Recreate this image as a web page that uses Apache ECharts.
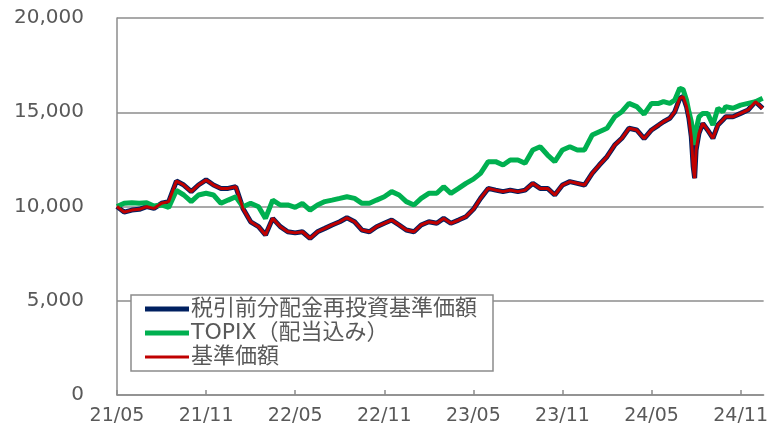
<!DOCTYPE html>
<html>
<head>
<meta charset="utf-8">
<script src="https://cdn.jsdelivr.net/npm/echarts@6/dist/echarts.min.js"></script>
<style>
  html, body { margin: 0; padding: 0; background: #ffffff; }
  #chart { width: 771px; height: 430px; }
</style>
</head>
<body>
<div id="chart"></div>
<script>
// dates of the points (half-monthly, denser around the Aug 2024 drop)
var dates = [
  '2021-05-01','2021-05-16','2021-06-01','2021-06-16','2021-07-01','2021-07-16','2021-08-01','2021-08-16','2021-09-01','2021-09-16',
  '2021-10-01','2021-10-16','2021-11-01','2021-11-16','2021-12-01','2021-12-16','2022-01-01','2022-01-16','2022-02-01','2022-02-16',
  '2022-03-01','2022-03-16','2022-04-01','2022-04-16','2022-05-01','2022-05-16','2022-06-01','2022-06-16','2022-07-01','2022-07-16',
  '2022-08-01','2022-08-16','2022-09-01','2022-09-16','2022-10-01','2022-10-16','2022-11-01','2022-11-16','2022-12-01','2022-12-16',
  '2023-01-01','2023-01-16','2023-02-01','2023-02-16','2023-03-01','2023-03-16','2023-04-01','2023-04-16','2023-05-01','2023-05-16',
  '2023-06-01','2023-06-16','2023-07-01','2023-07-16','2023-08-01','2023-08-16','2023-09-01','2023-09-16','2023-10-01','2023-10-16',
  '2023-11-01','2023-11-16','2023-12-01','2023-12-16','2024-01-01','2024-01-16','2024-02-01','2024-02-16','2024-03-01','2024-03-16',
  '2024-04-01','2024-04-16','2024-05-01','2024-05-16',
  '2024-05-26','2024-06-08','2024-06-18','2024-06-28','2024-07-05','2024-07-12','2024-07-17','2024-07-22','2024-07-26','2024-07-29',
  '2024-08-01','2024-08-07','2024-08-15','2024-08-25','2024-09-05','2024-09-15','2024-09-25',
  '2024-10-01','2024-10-16','2024-11-01','2024-11-16','2024-12-01','2024-12-16'
];

// 基準価額
var nav = [
  10000, 9700, 9810, 9850, 9990, 9900, 10170, 10260, 11350, 11140,
  10790, 11140, 11410, 11140, 10960, 10960, 11050, 9900, 9190, 8930,
  8490, 9370, 8930, 8660, 8600, 8660, 8310, 8660, 8840, 9020,
  9190, 9400, 9190, 8750, 8660, 8930, 9110, 9280, 9020, 8750,
  8660, 9020, 9190, 9110, 9370, 9110, 9280, 9460, 9850, 10430,
  10960, 10870, 10790, 10870, 10790, 10870, 11230, 10960, 10960, 10610,
  11140, 11320, 11230, 11140, 11760, 12200, 12640, 13260, 13620, 14150,
  14060, 13600, 14060, 14320,
  14500, 14680, 15030, 15740, 15830, 15300, 14680, 13700, 12110, 11500,
  13000, 13880, 14410, 14060, 13620, 14320, 14590,
  14760, 14760, 14940, 15120, 15560, 15210
];

// 税引前分配金再投資基準価額 (same as 基準価額 in the picture)
var navReinvest = nav;

// TOPIX（配当込み）
var topix = [
  10000, 10170, 10200, 10170, 10200, 10030, 10080, 9950, 10850, 10610,
  10260, 10610, 10700, 10610, 10170, 10340, 10520, 9990, 10170, 9990,
  9370, 10340, 10080, 10080, 9950, 10170, 9810, 10080, 10260, 10340,
  10430, 10520, 10430, 10170, 10170, 10340, 10520, 10790, 10610, 10260,
  10080, 10430, 10700, 10700, 11050, 10700, 10960, 11230, 11450, 11760,
  12380, 12380, 12200, 12470, 12470, 12290, 13000, 13170, 12730, 12380,
  13000, 13170, 13000, 13000, 13790, 13970, 14150, 14760, 15030, 15470,
  15300, 14900, 15470, 15470,
  15560, 15470, 15650, 16270, 16200, 15650, 15030, 14500, 13880, 13260,
  14060, 14760, 14940, 14940, 14320, 15210, 15030,
  15300, 15210, 15380, 15470, 15560, 15740
];

var seriesNames = ['税引前分配金再投資基準価額', 'TOPIX（配当込み）', '基準価額'];
var seriesColors = ['#002060', '#00b050', '#c00000'];
var startYear = 2021, startMonth = 5;

// months since 2021/05/01 (fractional), used as x position
function monthOffset(s) {
  var p = s.split('-');
  var y = +p[0], m = +p[1], d = +p[2];
  var dim = new Date(y, m, 0).getDate();
  return (y - startYear) * 12 + (m - startMonth) + (d - 1) / dim;
}
function pairs(vals) {
  var out = [];
  for (var i = 0; i < dates.length; i++) {
    out.push([monthOffset(dates[i]), vals[i]]);
  }
  return out;
}

var chart = echarts.init(document.getElementById('chart'));
var font = "'DejaVu Sans', 'Noto Sans CJK JP', sans-serif";
var gray = '#8c8c8c';

var option = {
  animation: false,
  grid: { left: 117, right: 0, top: 18, bottom: 35 },
  legend: {
    orient: 'vertical',
    left: 131,
    top: 295,
    padding: [3, 16, 3, 14],
    itemGap: 2,
    itemWidth: 44,
    itemHeight: 14,
    backgroundColor: '#ffffff',
    borderColor: gray,
    borderWidth: 1.5,
    borderRadius: 0,
    textStyle: { fontFamily: font, fontSize: 22, color: '#595959', padding: [0, 0, 0, -3] },
    data: [
      { name: seriesNames[0], icon: 'path://M0,0L44,0L44,5L0,5Z' },
      { name: seriesNames[1], icon: 'path://M0,0L44,0L44,5L0,5Z' },
      { name: seriesNames[2], icon: 'path://M0,0L44,0L44,3L0,3Z' }
    ]
  },
  xAxis: {
    type: 'value',
    min: 0,
    max: 43.55,
    interval: 6,
    axisLine: { lineStyle: { color: gray, width: 1.5 } },
    axisTick: { inside: true, length: 5, lineStyle: { color: gray, width: 1.5 } },
    splitLine: { show: false },
    axisLabel: {
      margin: 12,
      fontFamily: font,
      fontSize: 19,
      color: '#595959',
      showMaxLabel: false,
      formatter: function (v) {
        if (Math.abs(v / 6 - Math.round(v / 6)) > 1e-6) return '';
        var total = startMonth - 1 + v;
        var y = startYear + Math.floor(total / 12);
        var m = total % 12 + 1;
        return String(y % 100) + '/' + (m < 10 ? '0' + m : m);
      }
    }
  },
  yAxis: {
    type: 'value',
    min: 0,
    max: 20000,
    interval: 5000,
    axisLine: { show: true, lineStyle: { color: gray, width: 1.5 } },
    axisTick: { show: false },
    splitLine: { lineStyle: { color: gray, width: 1.5 } },
    axisLabel: { margin: 33, fontFamily: font, fontSize: 20, color: '#595959' }
  },
  series: [
    {
      name: seriesNames[0],
      type: 'line',
      data: pairs(navReinvest),
      symbol: 'none',
      lineStyle: { color: seriesColors[0], width: 5 },
      itemStyle: { color: seriesColors[0] }
    },
    {
      name: seriesNames[1],
      type: 'line',
      data: pairs(topix),
      symbol: 'none',
      lineStyle: { color: seriesColors[1], width: 5 },
      itemStyle: { color: seriesColors[1] }
    },
    {
      name: seriesNames[2],
      type: 'line',
      data: pairs(nav),
      symbol: 'none',
      lineStyle: { color: seriesColors[2], width: 3 },
      itemStyle: { color: seriesColors[2] }
    }
  ]
};

chart.setOption(option);
window.addEventListener('resize', function () { chart.resize(); });
</script>
</body>
</html>
